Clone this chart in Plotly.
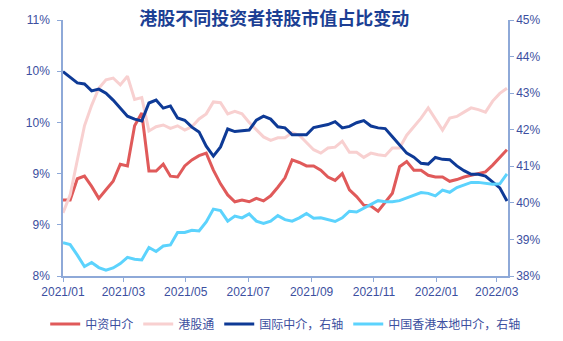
import pandas as pd
import plotly.graph_objects as go

# Weekly observations starting 2021-01-01
start_date = "2021-01-01"
n_weeks = 63

zhongzi = [8.89, 8.89, 9.14, 9.17, 9.05, 8.91, 9.01, 9.11, 9.31, 9.29,
           9.76, 9.91, 9.23, 9.23, 9.31, 9.17, 9.16, 9.29, 9.36, 9.41,
           9.44, 9.24, 9.08, 8.95, 8.87, 8.89, 8.87, 8.91, 8.88, 8.94,
           9.04, 9.15, 9.36, 9.33, 9.29, 9.29, 9.24, 9.16, 9.12, 9.20,
           9.01, 8.93, 8.83, 8.82, 8.76, 8.86, 8.97, 9.28, 9.34, 9.24,
           9.24, 9.18, 9.16, 9.16, 9.11, 9.13, 9.16, 9.18, 9.20, 9.22,
           9.30, 9.39, 9.48]

ganggutong = [8.74, 8.95, 9.36, 9.76, 10.00, 10.20, 10.30, 10.32, 10.24, 10.34,
              10.07, 10.09, 9.70, 9.75, 9.77, 9.73, 9.76, 9.71, 9.75, 9.84,
              9.90, 10.04, 10.03, 9.90, 9.93, 9.90, 9.80, 9.71, 9.63, 9.59,
              9.62, 9.62, 9.68, 9.65, 9.57, 9.48, 9.44, 9.50, 9.51, 9.58,
              9.45, 9.45, 9.39, 9.44, 9.42, 9.41, 9.50, 9.50, 9.65, 9.75,
              9.85, 9.97, 9.84, 9.71, 9.85, 9.87, 9.92, 9.97, 9.95, 9.92,
              10.05, 10.14, 10.20]

guoji = [43.59, 43.43, 43.28, 43.25, 43.06, 43.11, 43.00, 42.81, 42.59, 42.37,
         42.29, 42.24, 42.73, 42.81, 42.59, 42.65, 42.32, 42.26, 42.07, 41.94,
         41.55, 41.28, 41.53, 42.02, 41.95, 41.96, 41.99, 42.26, 42.37, 42.29,
         42.08, 42.05, 41.86, 41.86, 41.86, 42.06, 42.10, 42.14, 42.22, 42.05,
         42.09, 42.19, 42.25, 42.10, 42.05, 42.03, 41.81, 41.57, 41.36, 41.25,
         41.08, 41.06, 41.24, 41.19, 41.18, 41.01, 40.88, 40.78, 40.78, 40.73,
         40.58, 40.41, 40.05]

bendi = [38.91, 38.86, 38.57, 38.26, 38.37, 38.23, 38.16, 38.22, 38.34, 38.51,
         38.46, 38.44, 38.78, 38.67, 38.82, 38.85, 39.19, 39.19, 39.25, 39.23,
         39.48, 39.83, 39.79, 39.50, 39.64, 39.59, 39.70, 39.50, 39.44, 39.50,
         39.65, 39.54, 39.50, 39.59, 39.71, 39.58, 39.59, 39.55, 39.49, 39.59,
         39.77, 39.75, 39.85, 39.94, 40.06, 40.03, 40.03, 40.06, 40.13, 40.21,
         40.28, 40.26, 40.19, 40.35, 40.29, 40.42, 40.50, 40.56, 40.56, 40.53,
         40.51, 40.52, 40.79]

series_names = ["中资中介", "港股通", "国际中介，右轴", "中国香港本地中介，右轴"]
title_text = "港股不同投资者持股市值占比变动"

x_tick_vals = ["2021-01-01", "2021-03-01", "2021-05-01", "2021-07-01",
               "2021-09-01", "2021-11-01", "2022-01-01", "2022-03-01"]
x_tick_text = ["2021/01", "2021/03", "2021/05", "2021/07",
               "2021/09", "2021/11", "2022/01", "2022/03"]
y_left_vals = [8, 8.6, 9.2, 9.8, 10.4, 11]
y_left_text = ["8%", "9%", "9%", "10%", "10%", "11%"]
y_right_vals = [38, 39, 40, 41, 42, 43, 44, 45]
y_right_text = ["38%", "39%", "40%", "41%", "42%", "43%", "44%", "45%"]

dates = pd.date_range(start_date, periods=n_weeks, freq="7D")

FONT = "Liberation Sans, Arial, Noto Sans CJK SC, sans-serif"
TXT = "#3C4FA0"
AXC = "#8EA9D8"

fig = go.Figure()
fig.add_trace(go.Scatter(x=dates, y=zhongzi, name=series_names[0], mode="lines",
                         line=dict(color="#E05A5A", width=3), yaxis="y"))
fig.add_trace(go.Scatter(x=dates, y=ganggutong, name=series_names[1], mode="lines",
                         line=dict(color="#F8D0D0", width=3), yaxis="y"))
fig.add_trace(go.Scatter(x=dates, y=guoji, name=series_names[2], mode="lines",
                         line=dict(color="#0E3A96", width=3), yaxis="y2"))
fig.add_trace(go.Scatter(x=dates, y=bendi, name=series_names[3], mode="lines",
                         line=dict(color="#5CD3FD", width=3), yaxis="y2"))

fig.update_layout(
    width=563, height=341,
    margin=dict(l=63, r=55, t=20, b=65, autoexpand=False),
    paper_bgcolor="white", plot_bgcolor="white",
    font=dict(family=FONT, size=12, color=TXT),
    title=dict(text="<b>" + title_text + "</b>", x=0.487, xanchor="center",
               y=0.945, yanchor="middle",
               font=dict(family="Noto Sans CJK SC, sans-serif", size=18, color="#1C3F94")),
    showlegend=True,
    legend=dict(orientation="h", x=-0.04, xanchor="left", y=-0.1875, yanchor="middle",
                font=dict(family="Noto Sans CJK SC, sans-serif", size=12, color=TXT),
                itemwidth=30, traceorder="normal"),
    xaxis=dict(type="date", range=["2021-01-01", "2022-03-12"],
               tickvals=x_tick_vals, ticktext=x_tick_text,
               showgrid=False, zeroline=False,
               showline=True, linecolor=AXC, linewidth=1.5,
               ticks="outside", ticklen=4, tickcolor=AXC,
               tickfont=dict(size=12, color=TXT)),
    yaxis=dict(range=[8, 11], tickvals=y_left_vals, ticktext=y_left_text,
               showgrid=False, zeroline=False,
               showline=True, linecolor=AXC, linewidth=1.5,
               ticks="outside", ticklen=4, tickcolor=AXC, ticklabelstandoff=5,
               tickfont=dict(size=12, color=TXT)),
    yaxis2=dict(range=[38, 45], tickvals=y_right_vals, ticktext=y_right_text,
                overlaying="y", side="right",
                showgrid=False, zeroline=False,
                showline=True, linecolor=AXC, linewidth=1.5,
                ticks="outside", ticklen=4, tickcolor=AXC,
                tickfont=dict(size=12, color=TXT)),
)

fig.write_html("out.html")
